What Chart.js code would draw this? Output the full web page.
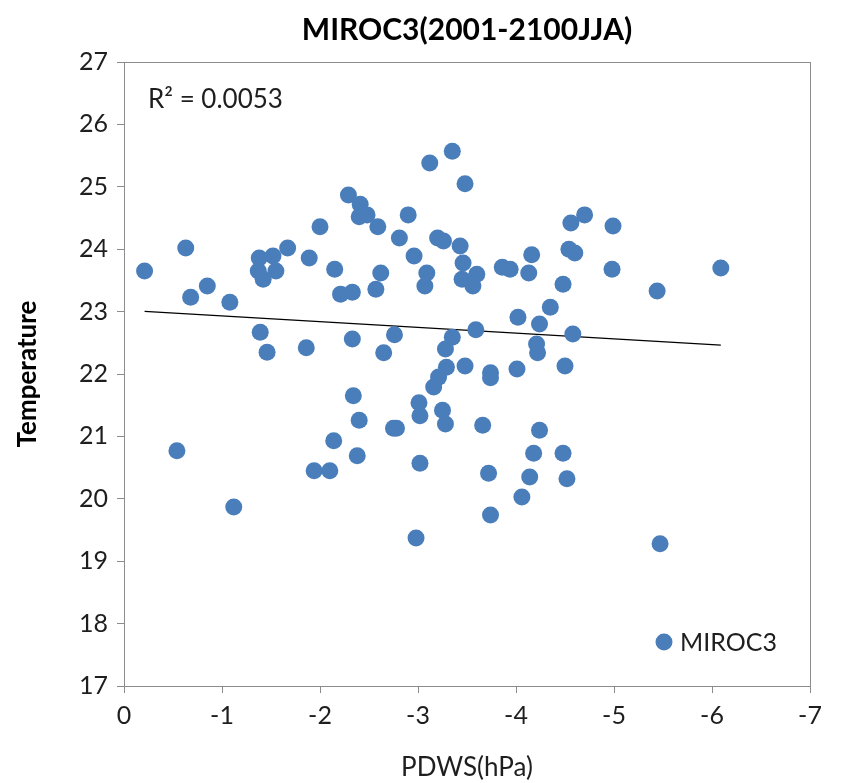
<!DOCTYPE html>
<html><head><meta charset="utf-8">
<script src="https://cdn.jsdelivr.net/npm/chart.js@4/dist/chart.umd.min.js"></script>
<style>html,body{margin:0;padding:0;background:#fff}#wrap{width:842px;height:783px}</style>
</head><body><div id="wrap"><canvas id="c" width="842" height="783"></canvas></div>
<script>
const seriesName = 'MIROC3';
const chartTitle = 'MIROC3(2001-2100JJA)';
const r2Label = 'R² = 0.0053';
const pdws = [-0.21,-0.54,-0.63,-0.68,-0.85,-1.08,-1.12,-1.38,-1.37,-1.42,-1.39,-1.46,-1.52,-1.55,-1.67,-1.86,-1.89,-1.94,-2.00,-2.10,
-2.14,-2.15,-2.21,-2.29,-2.33,-2.33,-2.34,-2.40,-2.38,-2.41,-2.40,-2.48,-2.57,-2.59,-2.62,-2.65,-2.75,-2.78,-2.76,-2.81,
-2.90,-2.96,-2.98,-3.01,-3.02,-3.02,-3.07,-3.09,-3.12,-3.16,-3.21,-3.20,-3.25,-3.26,-3.28,-3.29,-3.28,-3.35,-3.35,-3.43,
-3.45,-3.46,-3.48,-3.48,-3.56,-3.60,-3.59,-3.66,-3.74,-3.74,-3.72,-3.74,-3.86,-3.94,-4.01,-4.02,-4.06,-4.13,-4.14,-4.16,
-4.18,-4.21,-4.22,-4.24,-4.24,-4.35,-4.48,-4.48,-4.50,-4.52,-4.54,-4.60,-4.56,-4.58,-4.70,-4.99,-4.98,-5.44,-5.47,-6.09];
const temperature = [23.65,20.77,24.02,23.23,23.41,23.15,19.87,23.86,23.65,23.52,22.67,22.35,23.89,23.65,24.02,22.42,23.86,20.45,24.36,20.45,
20.93,23.68,23.28,24.87,23.31,22.56,21.65,21.26,20.69,24.72,24.52,24.55,23.36,24.36,23.62,22.34,21.13,21.13,22.63,24.18,
24.55,23.89,19.37,21.54,21.33,20.57,23.41,23.62,25.38,21.79,21.95,24.18,21.42,24.13,21.20,22.11,22.40,22.59,25.57,24.05,
23.52,23.78,25.05,22.13,23.41,23.60,22.71,21.18,22.02,21.94,20.41,19.74,23.71,23.68,22.08,22.91,20.03,23.62,20.35,23.91,
20.73,22.48,22.34,22.80,21.10,23.07,23.44,20.73,22.13,20.32,24.00,23.94,24.42,22.64,24.55,24.37,23.68,23.33,19.28,23.70];
const xTickValues = [0,-1,-2,-3,-4,-5,-6,-7];
const yTickValues = [17,18,19,20,21,22,23,24,25,26,27];

const pointColor = '#4A7EBB';
const FONT = 'Lato, "Open Sans", sans-serif';
const textColor = '#1e1e1e';
const axisGray = '#8c8c8c';

// least squares trend line, from the data
const n = pdws.length;
const mx = pdws.reduce((a,b)=>a+b,0)/n, my = temperature.reduce((a,b)=>a+b,0)/n;
let sxy=0, sxx=0;
for (let i=0;i<n;i++){ sxy += (pdws[i]-mx)*(temperature[i]-my); sxx += (pdws[i]-mx)**2; }
const slope = sxy/sxx, icpt = my - slope*mx;
const xMin = Math.min(...pdws), xMax = Math.max(...pdws);
const trend = [{x:xMax, y:icpt+slope*xMax},{x:xMin, y:icpt+slope*xMin}];

const extras = {
  id: 'extras',
  afterDraw(chart) {
    const {ctx, chartArea: a} = chart;
    ctx.save();
    ctx.strokeStyle = axisGray; ctx.lineWidth = 1;
    ctx.strokeRect(a.left+0.5, a.top+0.5, a.right-a.left, a.bottom-a.top);
    ctx.fillStyle = textColor;
    ctx.font = '26px ' + FONT;
    ctx.textBaseline = 'middle'; ctx.textAlign = 'left';
    ctx.fillText(r2Label, a.left + 24, a.top + 38);
    // legend inside plot
    const ds = chart.data.datasets[0];
    ctx.fillStyle = ds.backgroundColor;
    ctx.beginPath(); ctx.arc(a.right - 146, a.bottom - 44, 8.5, 0, Math.PI*2); ctx.fill();
    ctx.fillStyle = textColor;
    ctx.font = '25px ' + FONT;
    ctx.fillText(ds.label, a.right - 130, a.bottom - 43);
    ctx.restore();
  }
};

new Chart(document.getElementById('c'), {
  type: 'scatter',
  data: {
    datasets: [
      { label: seriesName, data: pdws.map((x,i)=>({x, y: temperature[i]})),
        backgroundColor: pointColor, borderColor: pointColor, pointRadius: 8.5, pointHoverRadius: 8.5, borderWidth: 0 },
      { label: 'trend', type: 'line', data: trend, borderColor: '#000', borderWidth: 1.2,
        pointRadius: 0, fill: false, tension: 0 }
    ]
  },
  options: {
    responsive: false, animation: false,
    devicePixelRatio: 1,
    layout: { padding: { left: 0, right: 32, top: 0, bottom: 0 } },
    plugins: {
      legend: { display: false }, tooltip: { enabled: false },
      title: { display: true, text: chartTitle, fullSize: false, color: '#000',
        font: { family: FONT, size: 30, weight: 'bold', lineHeight: 1.2 },
        padding: { top: 12, bottom: 14 } }
    },
    scales: {
      x: { type: 'linear', reverse: true, min: -7, max: 0,
        afterBuildTicks: s => { s.ticks = xTickValues.map(v=>({value:v})); },
        afterFit: s => { s.height = 97; },
        ticks: { color: textColor, font: { family: FONT, size: 25 }, padding: 8,
          callback: v => String(v), maxRotation: 0 },
        grid: { display: true, drawOnChartArea: false, drawTicks: true, tickLength: 7, color: axisGray },
        border: { display: true, color: axisGray },
        title: { display: true, text: 'PDWS(hPa)', color: textColor, font: { family: FONT, size: 26 }, padding: { top: 0, bottom: 0 } } },
      y: { type: 'linear', min: 17, max: 27,
        afterBuildTicks: s => { s.ticks = yTickValues.map(v=>({value:v})); },
        afterFit: s => { s.width = 124; },
        ticks: { color: textColor, font: { family: FONT, size: 25 }, padding: 9 },
        grid: { display: true, drawOnChartArea: false, drawTicks: true, tickLength: 7, color: axisGray },
        border: { display: true, color: axisGray },
        title: { display: true, text: 'Temperature', color: '#000', font: { family: FONT, size: 26, weight: 'bold' }, padding: { top: 12, bottom: 0 } } }
    }
  },
  plugins: [extras]
});
</script></body></html>
